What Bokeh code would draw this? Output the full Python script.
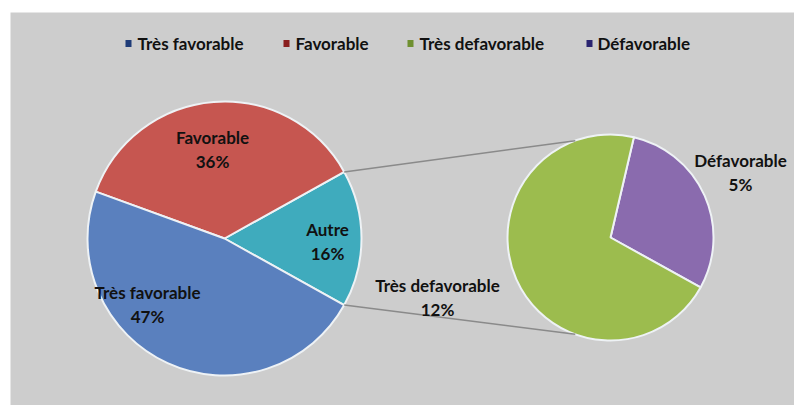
import numpy as np
from bokeh.plotting import figure
from bokeh.models import Range1d
from bokeh.core.properties import value
from bokeh.embed import file_html
from bokeh.resources import INLINE

# ---------------- data ----------------
main_labels = ["Très favorable", "Favorable", "Autre"]
main_values = [47, 36, 16]
sub_labels = ["Très defavorable", "Défavorable"]
sub_values = [12, 5]
legend_labels = ["Très favorable", "Favorable", "Très defavorable", "Défavorable"]

# ---------------- style / layout ----------------
W, H = 794, 405
main_colors = ["#5a80be", "#c65650", "#3fabbd"]
sub_colors = ["#9cbc4e", "#8a6bae"]
legend_colors = ["#1f3c78", "#8a1f1f", "#6f9030", "#2a2470"]
FONT = value("Lato")
TXT = "#111111"
FS = "17px"

def py(v):  # pixel-from-top -> data y
    return H - v

MAIN_C = (224, py(238))
MAIN_R = 137
SUB_C = (610, py(237))
SUB_R = 103
SUB_START = np.deg2rad(-29)      # where the 'Défavorable' slice starts
CONNECT_ANGLE = np.deg2rad(110)  # where connector lines meet the secondary pie

main_label_pos = {"Très favorable": (147, 292), "Favorable": (212, 137), "Autre": (327, 229)}
sub_label_pos = {"Très defavorable": (437, 285), "Défavorable": (740, 160)}
legend_sq_x = [128, 286, 410, 589]
legend_txt_x = [137, 295, 419, 597]
LEGEND_Y = py(43)

p = figure(width=W, height=H, x_range=Range1d(0, W), y_range=Range1d(0, H),
           output_backend="svg", toolbar_location=None,
           x_axis_type=None, y_axis_type=None, min_border=0)
p.min_border_left = p.min_border_right = p.min_border_top = p.min_border_bottom = 0
p.grid.visible = False
p.outline_line_color = None
p.background_fill_color = "white"
p.border_fill_color = "white"

# grey chart area
p.quad(left=10, right=W, bottom=0, top=py(12), fill_color="#cdcdcd", line_color=None)

# ---------------- main pie ----------------
total = sum(main_values)
fr = [v / total for v in main_values]
# counter-clockwise order starting from "Autre" centred on 0 rad
order = [2, 1, 0]
a = -np.pi * fr[2]
starts, ends, cols = [], [], []
for i in order:
    starts.append(a)
    a += 2 * np.pi * fr[i]
    ends.append(a)
    cols.append(main_colors[i])
autre_half = np.pi * fr[2]

p.wedge(x=MAIN_C[0], y=MAIN_C[1], radius=MAIN_R,
        start_angle=starts, end_angle=ends, direction="anticlock",
        fill_color=cols, line_color="#eef2f5", line_width=2)

# ---------------- secondary pie ----------------
stot = sum(sub_values)
sfr = [v / stot for v in sub_values]
sorder = [1, 0]
a = SUB_START
ss, se, sc = [], [], []
for i in sorder:
    ss.append(a)
    a += 2 * np.pi * sfr[i]
    se.append(a)
    sc.append(sub_colors[i])
p.wedge(x=SUB_C[0], y=SUB_C[1], radius=SUB_R,
        start_angle=ss, end_angle=se, direction="anticlock",
        fill_color=sc, line_color="#eef2f5", line_width=2)

# connector lines
x0 = [MAIN_C[0] + MAIN_R * np.cos(autre_half), MAIN_C[0] + MAIN_R * np.cos(-autre_half)]
y0 = [MAIN_C[1] + MAIN_R * np.sin(autre_half), MAIN_C[1] + MAIN_R * np.sin(-autre_half)]
x1 = [SUB_C[0] + SUB_R * np.cos(CONNECT_ANGLE), SUB_C[0] + SUB_R * np.cos(-CONNECT_ANGLE)]
y1 = [SUB_C[1] + SUB_R * np.sin(CONNECT_ANGLE), SUB_C[1] + SUB_R * np.sin(-CONNECT_ANGLE)]
p.segment(x0=x0, y0=y0, x1=x1, y1=y1, line_color="#8a8a8a", line_width=1.5)

# ---------------- labels ----------------
lx, ly, lt = [], [], []
for lab, v in zip(main_labels, main_values):
    x, y = main_label_pos[lab]
    lx += [x, x]
    ly += [py(y), py(y + 24)]
    lt += [lab, f"{v}%"]
for lab, v in zip(sub_labels, sub_values):
    x, y = sub_label_pos[lab]
    lx += [x, x]
    ly += [py(y), py(y + 24)]
    lt += [lab, f"{v}%"]
p.text(x=lx, y=ly, text=lt, text_font=FONT, text_font_style="bold",
       text_font_size=FS, text_align="center", text_baseline="middle",
       text_color=TXT)

# ---------------- legend ----------------
p.rect(x=legend_sq_x, y=[LEGEND_Y] * 4, width=6, height=7,
       fill_color=legend_colors, line_color=None)
p.text(x=legend_txt_x, y=[LEGEND_Y] * 4, text=legend_labels, text_font=FONT,
       text_font_style="bold", text_font_size=FS, text_align="left",
       text_baseline="middle", text_color=TXT)

open("out.html", "w").write(file_html(p, INLINE))
